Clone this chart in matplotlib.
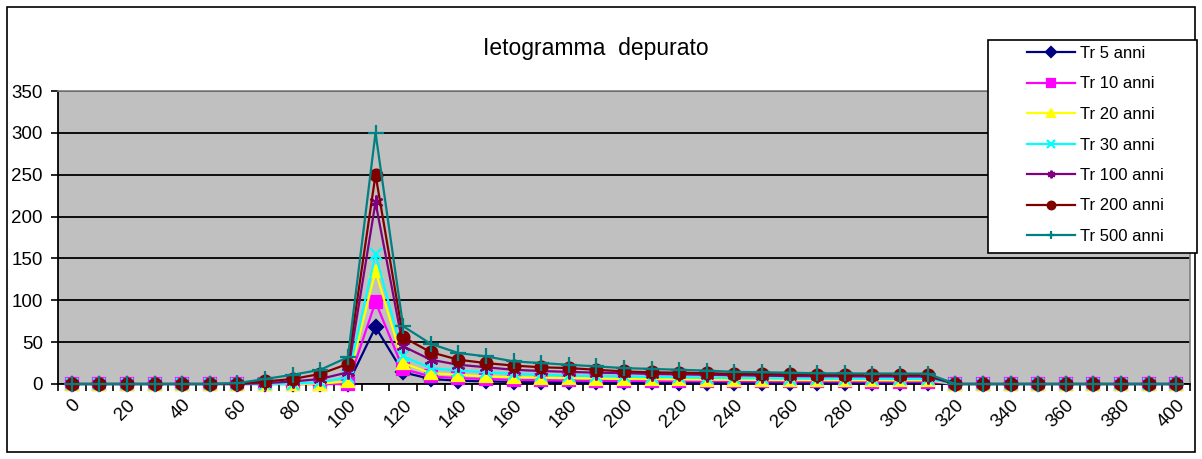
import matplotlib.pyplot as plt
from matplotlib.patches import Rectangle
import numpy as np

plt.rcParams['font.family'] = ['Liberation Sans', 'DejaVu Sans']

# durata (min) - categorie sull'asse x
t = list(range(0, 410, 10))

# intensita' di pioggia netta per ogni tempo di ritorno
tr5 = [0, 0, 0, 0, 0, 0, 0, 0, 0, 0, 0, 68, 14, 6, 4, 3, 2.5, 2.2, 2, 2, 1.8,
       1.8, 1.7, 1.7, 1.6, 1.6, 1.5, 1.5, 1.5, 1.5, 1.4, 1.4, 0, 0, 0, 0, 0, 0, 0, 0, 0]
tr10 = [0, 0, 0, 0, 0, 0, 0, 0, 0, 0, 0, 98, 18, 9, 7, 6, 5, 4.5, 4.2, 4, 3.8,
        3.6, 3.4, 3.3, 3.2, 3.1, 3, 3, 3, 2.9, 2.9, 2.8, 0, 0, 0, 0, 0, 0, 0, 0, 0]
tr20 = [0, 0, 0, 0, 0, 0, 0, 0, 0, 0.5, 3, 135, 25, 13, 11, 9, 8, 7.5, 7, 6.5, 6,
        5.8, 5.5, 5.2, 5, 4.8, 4.7, 4.6, 4.5, 4.5, 4.4, 4.4, 0, 0, 0, 0, 0, 0, 0, 0, 0]
tr30 = [0, 0, 0, 0, 0, 0, 0, 0, 0.5, 2, 8, 155, 33, 19, 16, 14, 12, 11, 10, 9.5, 9,
        8.5, 8, 7.5, 7, 6.8, 6.5, 6.4, 6.3, 6.2, 6.1, 6, 0, 0, 0, 0, 0, 0, 0, 0, 0]
tr100 = [0, 0, 0, 0, 0, 0, 0, 1, 3, 6, 14, 217, 45, 29, 23, 20, 17, 15.5, 14.5, 13.5, 13,
         12, 11.5, 11, 10.5, 10, 9.5, 9.3, 9.2, 9, 9, 8.9, 0, 0, 0, 0, 0, 0, 0, 0, 0]
tr200 = [0, 0, 0, 0, 0, 0, 0.3, 3, 6, 12, 24, 250, 56, 38, 29, 25, 22, 20, 19, 17, 15,
         14, 13.5, 13, 12, 12, 11.5, 11.2, 11, 11, 10.9, 10.8, 0, 0, 0, 0, 0, 0, 0, 0, 0]
tr500 = [0, 0, 0, 0, 0, 0, 1, 6, 11, 17, 32, 300, 69, 48, 37, 33, 27, 25, 23, 21, 19,
         18, 17, 16, 14.5, 14, 13.5, 12.8, 12.6, 12.5, 12.5, 12.4, 0, 0, 0, 0, 0, 0, 0, 0, 0]

series = [
    ('Tr 5 anni', tr5, '#000080', 'D', 7.5),
    ('Tr 10 anni', tr10, '#FF00FF', 's', 8.5),
    ('Tr 20 anni', tr20, '#FFFF00', '^', 9),
    ('Tr 30 anni', tr30, '#00FFFF', 'x', 9),
    ('Tr 100 anni', tr100, '#800080', (6, 2, 0), 10),
    ('Tr 200 anni', tr200, '#800000', 'o', 8.5),
    ('Tr 500 anni', tr500, '#008080', '+', 11),
]

fig = plt.figure(figsize=(12.02, 4.59), dpi=100)
ax = fig.add_axes([58 / 1202, 1 - 384 / 459, 1132 / 1202, 293 / 459])
ax.set_facecolor('#C0C0C0')

for name, vals, col, mk, ms in series:
    ax.plot(t, vals, color=col, lw=1.6, marker=mk, ms=ms, mew=1.6,
            mec=col, mfc=col, label=name, clip_on=False, zorder=3)

ax.set_xlim(-5, 405)
ax.set_ylim(0, 350)
ax.set_yticks(range(0, 351, 50))
ax.yaxis.grid(True, color='black', lw=1.3)
ax.set_axisbelow(True)

ax.set_xticks(range(0, 401, 20))
ax.set_xticks(np.arange(-5, 406, 10), minor=True)
ax.tick_params(axis='x', which='major', length=0, labelsize=13.5, pad=9)
ax.tick_params(axis='x', which='minor', length=5, width=1.2, direction='out')
ax.tick_params(axis='y', length=5, width=1.2, labelsize=13.5, pad=6)
for lab in ax.get_xticklabels():
    lab.set_rotation(45)
    lab.set_ha('right')
    lab.set_va('top')
    lab.set_rotation_mode('anchor')

for side in ['top', 'right']:
    ax.spines[side].set_color('#808080')
    ax.spines[side].set_linewidth(1.2)
ax.spines['left'].set_linewidth(1.3)
ax.spines['bottom'].set_linewidth(1.3)

fig.text(0.496, 1 - 48 / 459, 'Ietogramma  depurato', ha='center', va='center', fontsize=16.5)

# riquadro della legenda
fig.patches.append(Rectangle((988 / 1202, 1 - 253 / 459), 209 / 1202, 213 / 459,
                             transform=fig.transFigure, facecolor='white',
                             edgecolor='black', lw=1.2, zorder=9))
leg = ax.legend(loc='upper left', bbox_to_anchor=(1027 / 1202, 1 - 46 / 459),
                bbox_transform=fig.transFigure, fontsize=12, frameon=False,
                handlelength=2.9, labelspacing=0.93, borderpad=0,
                handletextpad=0.25, borderaxespad=0)
for h in leg.legend_handles:
    h.set_markersize(5.5)
leg.set_zorder(10)
leg.remove()
fig.legends.append(leg)
leg.set_figure(fig)

fig.patches.append(Rectangle((7 / 1202, 1 - 452 / 459), 1188 / 1202, 445 / 459,
                             transform=fig.transFigure, fill=False,
                             edgecolor='black', lw=1.2))

fig.savefig('out.png', dpi=100)
